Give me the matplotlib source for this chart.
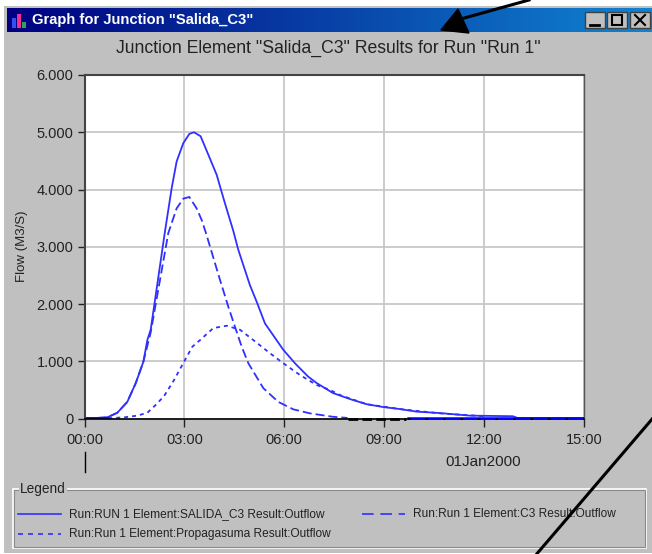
# recreate of the HEC-HMS junction graph window (screenshot look)
import numpy as np
import matplotlib
matplotlib.use('Agg')
import matplotlib.pyplot as plt
from matplotlib.patches import Rectangle, Polygon

W, H = 652, 554

# hours since 00:00, flow in M3/S
salida_t = [0, 0.4, 0.685, 0.985, 1.285, 1.537, 1.767, 1.887, 1.987, 2.2, 2.417, 2.617, 2.767, 2.967, 3.147, 3.287, 3.487, 3.717, 3.967, 4.217, 4.467, 4.617, 4.967, 5.17, 5.42, 5.97, 6.32, 6.72, 6.97, 7.46, 7.97, 8.47, 8.97, 9.47, 9.97, 10.67, 11.57, 12.86, 13.0, 15.0]
salida_q = [0, 0.01, 0.02, 0.10, 0.29, 0.615, 0.99, 1.37, 1.55, 2.4, 3.27, 4.02, 4.49, 4.81, 4.97, 5.0, 4.93, 4.61, 4.26, 3.76, 3.28, 2.95, 2.33, 2.04, 1.66, 1.2, 0.965, 0.73, 0.62, 0.445, 0.34, 0.25, 0.2, 0.165, 0.12, 0.095, 0.05, 0.04, 0.01, 0.01]

c3_t = [0, 0.685, 0.985, 1.285, 1.537, 1.767, 1.987, 2.2, 2.517, 2.767, 2.967, 3.147, 3.367, 3.517, 3.647, 4.07, 4.32, 4.52, 4.72, 4.92, 5.37, 5.82, 6.27, 6.77, 7.46, 7.9]
c3_q = [0, 0.02, 0.10, 0.29, 0.615, 0.99, 1.5, 2.2, 3.24, 3.67, 3.84, 3.87, 3.67, 3.47, 3.24, 2.42, 1.95, 1.6, 1.255, 0.965, 0.53, 0.29, 0.16, 0.09, 0.03, 0.01]

propa_t = [0, 0.6, 1.186, 1.586, 1.887, 2.137, 2.387, 2.687, 2.987, 3.24, 3.47, 3.87, 4.27, 4.67, 5.07, 5.57, 5.97, 6.47, 6.97, 7.37, 7.67, 8.47, 9.47, 10.67, 12.0]
propa_q = [0, 0.0, 0.02, 0.05, 0.10, 0.236, 0.39, 0.67, 0.99, 1.255, 1.37, 1.58, 1.62, 1.55, 1.37, 1.14, 0.965, 0.76, 0.585, 0.5, 0.41, 0.25, 0.165, 0.09, 0.04]

# the stretches that lie on the axis
axis_dash_t = [7.9, 9.65]
axis_blue_t = [9.7, 15.0]
start_blue_t = [0, 0.7]

x_ticks = [0, 3, 6, 9, 12, 15]
x_labels = ['00:00', '03:00', '06:00', '09:00', '12:00', '15:00']
y_ticks = [0, 1, 2, 3, 4, 5, 6]
y_labels = ['0', '1.000', '2.000', '3.000', '4.000', '5.000', '6.000']

window_title = 'Graph for Junction "Salida_C3"'
chart_title = 'Junction Element "Salida_C3" Results for Run "Run 1"'
legend_names = ['Run:RUN 1 Element:SALIDA_C3 Result:Outflow',
                'Run:Run 1 Element:C3 Result:Outflow',
                'Run:Run 1 Element:Propagasuma Result:Outflow']

plt.rcParams['font.family'] = ['Liberation Sans', 'DejaVu Sans']
GRAY = '#c0c0c0'
BLUE = '#3030ff'
TXT = '#222222'

fig = plt.figure(figsize=(W / 100, H / 100), dpi=100, facecolor='white')


def ax_px(x0, y0, x1, y1, **kw):
    # axes placed in picture pixels, y counted from the top
    return fig.add_axes([x0 / W, 1 - y1 / H, (x1 - x0) / W, (y1 - y0) / H], **kw)


# window background, everything drawn in pixels
bg = ax_px(0, 0, W, H)
bg.set_xlim(0, W)
bg.set_ylim(H, 0)
bg.axis('off')
bg.add_patch(Rectangle((4, 6), W - 4, H - 7, fc=GRAY, ec='none'))
grad = np.linspace(0, 1, 256)[None, :, None]
cols = np.array([0, 0, 128]) / 255 * (1 - grad) + np.array([16, 132, 208]) / 255 * grad
bg.imshow(cols, extent=(7, W, 32, 8), aspect='auto', zorder=1)
bg.set_xlim(0, W)
bg.set_ylim(H, 0)

# little icon and window title
for x, top, c in [(12, 17.5, '#3050f0'), (17, 14, '#f03090'), (22, 22, '#30a060')]:
    bg.add_patch(Rectangle((x, top), 4, 28 - top, fc=c, ec='none', zorder=2))
bg.text(32, 20, window_title, color='white', fontsize=10.6, fontweight='bold', va='center', zorder=3)

# min / max / close
for x in [585, 607, 630]:
    bg.add_patch(Rectangle((x, 12), 20, 16, fc=GRAY, ec='#404040', lw=1, zorder=2))
bg.plot([590, 599], [24.5, 24.5], color='black', lw=2, zorder=3)
bg.add_patch(Rectangle((612, 15), 10, 10, fc='none', ec='black', lw=1.5, zorder=3))
bg.plot([635, 645], [15, 25], color='black', lw=1.5, zorder=3)
bg.plot([635, 645], [25, 15], color='black', lw=1.5, zorder=3)

bg.text(328, 48, chart_title, color=TXT, fontsize=12.7, ha='center', va='center')

# legend frame
bg.add_patch(Rectangle((12.5, 488.5), 633, 59, fc='none', ec='white', lw=1.2))
bg.add_patch(Rectangle((13.5, 489.5), 631, 57, fc='none', ec='#8a8a8a', lw=0.8))
bg.text(20, 489, 'Legend', color=TXT, fontsize=9.8, va='center', ha='left',
        bbox=dict(fc=GRAY, ec='none', pad=1))
bg.plot([18, 61], [514, 514], color=BLUE, lw=1.2)
bg.plot([362, 405], [514, 514], color=BLUE, lw=1.2, dashes=(7, 4))
bg.plot([18, 61], [534, 534], color=BLUE, lw=1.2, dashes=(3, 3))
bg.text(69, 514, legend_names[0], color=TXT, fontsize=8.55, va='center')
bg.text(413, 514, legend_names[1], color=TXT, fontsize=8.55, va='center')
bg.text(69, 534, legend_names[2], color=TXT, fontsize=8.55, va='center')

# plot area
ax = ax_px(84.5, 75, 584, 418.5, facecolor='white')
ax.set_xlim(0, 15)
ax.set_ylim(0, 6)
ax.grid(True, color='#c8c8c8', lw=1.3)
ax.set_axisbelow(True)
ax.plot(salida_t, salida_q, color=BLUE, lw=1.3)
ax.plot(c3_t, c3_q, color=BLUE, lw=1.3, dashes=(5, 2.2))
ax.plot(propa_t, propa_q, color=BLUE, lw=1.3, dashes=(2.2, 2.2))
ax.plot(start_blue_t, [0.01, 0.01], color='#0000ff', lw=1.8)
ax.plot(axis_blue_t, [0.015, 0.015], color='#0000ff', lw=1.8, zorder=5)
ax.set_xticks(x_ticks)
ax.set_xticklabels(x_labels)
ax.set_yticks(y_ticks)
ax.set_yticklabels(y_labels)
ax.tick_params(length=5, width=1, colors=TXT, labelsize=10.5, pad=3)
ax.tick_params(axis='x', length=5.8, pad=4.6)
for s in ['top', 'left']:
    ax.spines[s].set_color('#444444')
    ax.spines[s].set_linewidth(1.5)
ax.spines['bottom'].set_linewidth(1.2)
ax.spines['right'].set_color('#555555')
ax.spines['right'].set_linewidth(1)
ax.set_ylabel('Flow (M3/S)', fontsize=9.5, color=TXT, labelpad=6)
ax.plot(axis_dash_t, [0, 0], color='black', lw=2, dashes=(3.5, 1.5), clip_on=False, zorder=6)
ax.plot(axis_blue_t, [0, 0], color='black', lw=1.2, dashes=(1.5, 9), clip_on=False, zorder=6)

# date label and the mark under 00:00
fg = ax_px(0, 0, W, H)
fg.set_xlim(0, W)
fg.set_ylim(H, 0)
fg.axis('off')
fg.patch.set_alpha(0)
fg.plot([84.5, 84.5], [452, 472], color='black', lw=1)
fg.text(483, 462, '01Jan2000', color=TXT, fontsize=11, ha='center', va='center')

# black drawn-over arrow and line
fg.plot([529, 450], [0, 22], color='black', lw=2.2)
fg.add_patch(Polygon([(441, 30), (458, 9), (469, 33)], fc='black', ec='black'))
fg.plot([653, 535], [418, 556], color='black', lw=2.2)

fig.savefig('out.png', dpi=100, facecolor='white')
